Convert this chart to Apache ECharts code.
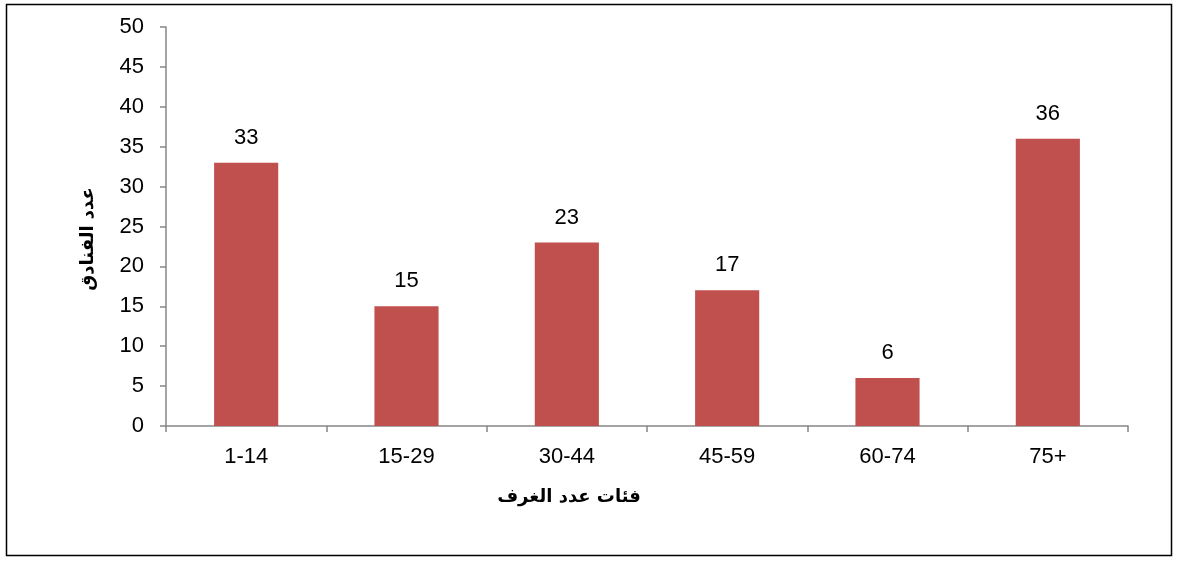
<!DOCTYPE html>
<html><head><meta charset="utf-8">
<script src="https://cdn.jsdelivr.net/npm/echarts@6/dist/echarts.min.js"></script>
<style>html,body{margin:0;padding:0;background:#fff}#c{width:1177px;height:561px}</style>
</head><body><div id="c"></div>
<script>
const categories = ['1-14','15-29','30-44','45-59','60-74','75+'];
const values = [33,15,23,17,6,36];
const yTicks = {min:0,max:50,interval:5};
const xName = 'فئات عدد الغرف';
const yName = 'عدد الفنادق';
const chart = echarts.init(document.getElementById('c'));
const numFont = '"Liberation Sans", Arial, sans-serif';
chart.setOption({
  animation:false,
  grid:{left:166,right:49,top:27,bottom:135},
  graphic:[
    {type:'rect',shape:{x:6.5,y:4.5,width:1165,height:551},style:{fill:'none',stroke:'#000',lineWidth:1.5}},
    {type:'text',x:569,y:497,style:{text:xName,font:'bold 18px "DejaVu Sans", "Noto Sans", sans-serif',fill:'#000',align:'center',verticalAlign:'middle'}},
    {type:'text',x:88,y:239,rotation:Math.PI/2,style:{text:yName,font:'bold 18px "DejaVu Sans", "Noto Sans", sans-serif',fill:'#000',align:'center',verticalAlign:'middle'}}
  ],
  xAxis:{type:'category',data:categories,
    axisLine:{lineStyle:{color:'#868686',width:1.5}},
    axisTick:{show:true,alignWithLabel:false,length:6,lineStyle:{color:'#868686',width:1.5}},
    axisLabel:{color:'#000',fontSize:22,fontFamily:numFont,margin:20}},
  yAxis:{type:'value',min:yTicks.min,max:yTicks.max,interval:yTicks.interval,
    axisLine:{show:true,lineStyle:{color:'#868686',width:1.5}},
    axisTick:{show:true,length:6,lineStyle:{color:'#868686',width:1.5}},
    splitLine:{show:false},
    axisLabel:{color:'#000',fontSize:22,fontFamily:numFont,margin:22}},
  series:[{type:'bar',data:values,barWidth:'40%',
    itemStyle:{color:'#C0504D'},
    label:{show:true,position:'top',distance:14,color:'#000',fontSize:22,fontFamily:numFont}}]
});
</script></body></html>
